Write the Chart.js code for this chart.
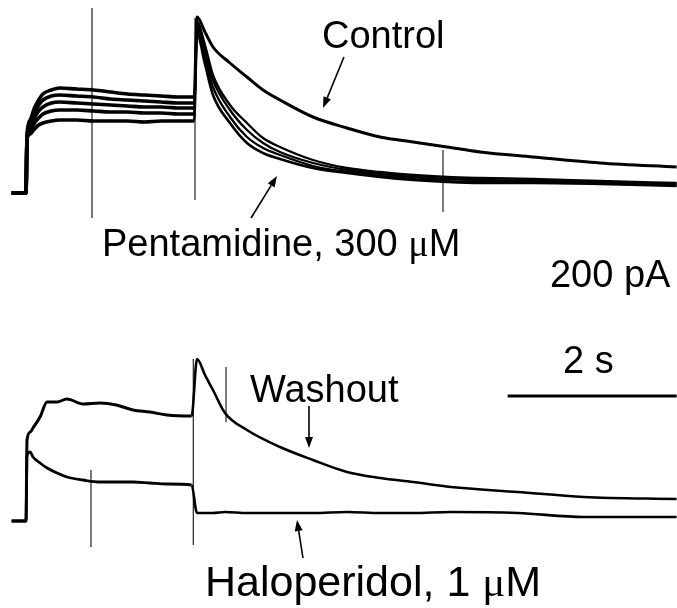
<!DOCTYPE html>
<html>
<head>
<meta charset="utf-8">
<script src="https://cdn.jsdelivr.net/npm/chart.js@4"></script>
<style>
  html, body { margin: 0; padding: 0; background: #fff; }
  #wrap { width: 677px; height: 608px; }
</style>
</head>
<body>
<div id="wrap"><canvas id="c" width="677" height="608"></canvas></div>
<script>
// ---------- DATA (time in s, current in pA; step onset at t = 0) ----------
// Upper panel: control + pentamidine (300 µM) traces
const topPulseT = [-0.17, -0.08, 0, 0.012, 0.05, 0.1, 0.15, 0.2, 0.3, 0.4, 0.6, 0.8, 1.0, 1.2, 1.4, 1.6, 1.8, 1.99];
const controlPulse = [0, 0, 0, 116, 146, 170, 186, 198, 206, 210, 208, 206, 202, 198, 196, 194, 192, 192];
const pentA_Pulse = [0, 0, 0, 114, 138, 160, 176, 186, 194, 196, 194, 192, 188, 186, 184, 182, 180, 180];
const pentB_Pulse = [0, 0, 0, 112, 130, 150, 164, 172, 180, 182, 180, 178, 176, 174, 172, 172, 170, 170];
const pentC_Pulse = [0, 0, 0, 110, 124, 140, 150, 158, 164, 166, 166, 164, 162, 162, 160, 160, 158, 158];
const pentD_Pulse = [0, 0, 0, 108, 118, 128, 136, 140, 144, 146, 146, 144, 144, 144, 142, 144, 144, 144];

const topTailT = [2.024, 2.118, 2.213, 2.414, 2.615, 2.805, 3.006, 3.396, 3.799, 4.189, 4.580, 4.982, 5.373, 6.0, 6.79, 7.70];
const controlTail = [352, 322, 292, 260, 232, 206, 186, 152, 130, 112, 102, 92, 82, 72, 60, 52];
const pentA_Tail = [342, 296, 236, 176, 140, 110, 92, 66, 50, 42, 36, 32, 30, 28, 24, 20];
const pentB_Tail = [334, 282, 226, 166, 126, 100, 82, 60, 46, 38, 32, 28, 26, 24, 22, 18];
const pentC_Tail = [326, 270, 212, 152, 112, 90, 76, 54, 42, 34, 28, 24, 22, 22, 20, 16];
const pentD_Tail = [318, 258, 196, 140, 100, 80, 68, 50, 40, 32, 26, 22, 20, 20, 18, 14];

// Lower panel: washout + haloperidol (1 µM)
const botPulseT = [-0.17, 0, 0.012, 0.05, 0.083, 0.166, 0.25, 0.367, 0.485, 0.675, 0.876, 1.07, 1.266, 1.467, 1.669, 1.96];
const washoutPulse = [0, 0, 162, 178, 186, 208, 238, 238, 244, 234, 236, 232, 222, 218, 212, 210];
const haloPulse = [0, 0, 132, 138, 128, 116, 106, 96, 88, 82, 78, 78, 78, 76, 74, 72];

const botTailT = [2.024, 2.118, 2.213, 2.355, 2.615, 3.006, 3.396, 3.799, 4.189, 4.580, 5.03, 5.82, 6.60, 7.70];
const washoutTail = [324, 292, 262, 216, 182, 148, 122, 98, 86, 78, 68, 58, 48, 44];
const haloTail = [16, 16, 16, 18, 16, 16, 16, 18, 16, 16, 18, 16, 8, 8];

// Capacitive artifacts (time, upper current, lower current)
const topArtifactT = [0.781, 2.0, 4.935];
const topArtifactHi = [370, 350, 86];
const topArtifactLo = [-50, -14, -38];
const botArtifactT = [0.769, 1.98, 2.367];
const botArtifactHi = [102, 324, 308];
const botArtifactLo = [-52, -48, 198];

// Time scale bar: 2 s
const scaleBarT = [5.70, 7.70];
const scaleBarI = 250;

// ---------- helpers ----------
function pts(tA, vA) { return tA.map((t, i) => ({ x: t, y: vA[i] })); }
function trace(tp, vp, tt, vt) { return pts(tp, vp).concat(pts(tt, vt)); }

const datasets = [];
function addLine(data, axis, pulseWidth, tailWidth) {
  datasets.push({ data, yAxisID: axis, borderColor: '#000', borderWidth: tailWidth,
    pointRadius: 0, cubicInterpolationMode: 'monotone', fill: false,
    borderJoinStyle: 'round', borderCapStyle: 'butt',
    segment: { borderWidth: c => (c.p1.parsed.x < 2.0 ? pulseWidth : tailWidth) } });
}

addLine(trace(topPulseT, controlPulse, topTailT, controlTail), 'yTop', 3.6, 3.0);
addLine(trace(topPulseT, pentA_Pulse, topTailT, pentA_Tail), 'yTop', 3.6, 2.3);
addLine(trace(topPulseT, pentB_Pulse, topTailT, pentB_Tail), 'yTop', 3.6, 2.3);
addLine(trace(topPulseT, pentC_Pulse, topTailT, pentC_Tail), 'yTop', 3.6, 2.3);
addLine(trace(topPulseT, pentD_Pulse, topTailT, pentD_Tail), 'yTop', 3.6, 2.6);
addLine(trace(botPulseT, washoutPulse, botTailT, washoutTail), 'yBot', 3.0, 2.6);
addLine(trace(botPulseT, haloPulse, botTailT, haloTail), 'yBot', 2.8, 2.6);

topArtifactT.forEach((t, i) => {
  datasets.push({ data: [{ x: t, y: topArtifactHi[i] }, { x: t, y: topArtifactLo[i] }], yAxisID: 'yTop',
    borderColor: '#222', borderWidth: 1.2, pointRadius: 0, tension: 0 });
});
botArtifactT.forEach((t, i) => {
  datasets.push({ data: [{ x: t, y: botArtifactHi[i] }, { x: t, y: botArtifactLo[i] }], yAxisID: 'yBot',
    borderColor: '#222', borderWidth: 1.2, pointRadius: 0, tension: 0 });
});
datasets.push({ data: scaleBarT.map(t => ({ x: t, y: scaleBarI })), yAxisID: 'yBot',
  borderColor: '#000', borderWidth: 3, pointRadius: 0, tension: 0 });

// ---------- annotations (positions in data units) ----------
const labelSpecs = [
  { axis: 'yTop', t: 3.503, i: 290, size: 38, parts: [{ s: 'Control' }] },
  { axis: 'yTop', t: 0.899, i: -126, size: 38, parts: [{ s: 'Pentamidine, 300 ' }, { s: 'μ', serif: true }, { s: 'M' }] },
  { axis: 'yTop', t: 6.201, i: -188, size: 38, parts: [{ s: '200 pA' }] },
  { axis: 'yBot', t: 6.355, i: 296, size: 38, parts: [{ s: '2 s' }] },
  { axis: 'yBot', t: 2.651, i: 238, size: 38, parts: [{ s: 'Washout' }] },
  { axis: 'yBot', t: 2.118, i: -150, size: 43, parts: [{ s: 'Haloperidol, 1 ' }, { s: 'μ', serif: true }, { s: 'M' }] }
];
const arrowSpecs = [
  { axis: 'yTop', t0: 3.763, i0: 272, t1: 3.515, i1: 170 },
  { axis: 'yTop', t0: 2.663, i0: -50, t1: 2.970, i1: 34 },
  { axis: 'yBot', t0: 3.349, i0: 230, t1: 3.349, i1: 146 },
  { axis: 'yBot', t0: 3.278, i0: -74, t1: 3.207, i1: 2 }
];

const annotPlugin = {
  id: 'annot',
  afterDatasetsDraw(chart) {
    const ctx = chart.ctx, xs = chart.scales.x;
    ctx.save();
    ctx.fillStyle = '#000';
    ctx.strokeStyle = '#000';
    ctx.textBaseline = 'alphabetic';
    ctx.textAlign = 'left';
    for (const L of labelSpecs) {
      const ys = chart.scales[L.axis];
      let x = xs.getPixelForValue(L.t);
      const y = ys.getPixelForValue(L.i);
      for (const p of L.parts) {
        ctx.font = p.serif ? (L.size + 'px "Liberation Serif", "Times New Roman", serif')
                           : (L.size + 'px "Liberation Sans", Arial, sans-serif');
        ctx.fillText(p.s, x, y);
        x += ctx.measureText(p.s).width;
      }
    }
    for (const A of arrowSpecs) {
      const ys = chart.scales[A.axis];
      const x0 = xs.getPixelForValue(A.t0), y0 = ys.getPixelForValue(A.i0);
      const x1 = xs.getPixelForValue(A.t1), y1 = ys.getPixelForValue(A.i1);
      const ang = Math.atan2(y1 - y0, x1 - x0);
      const hl = 11, hw = 4;
      const bx = x1 - hl * Math.cos(ang), by = y1 - hl * Math.sin(ang);
      ctx.lineWidth = 1.6;
      ctx.beginPath(); ctx.moveTo(x0, y0); ctx.lineTo(bx, by); ctx.stroke();
      ctx.beginPath();
      ctx.moveTo(x1, y1);
      ctx.lineTo(bx + hw * Math.sin(ang), by - hw * Math.cos(ang));
      ctx.lineTo(bx - hw * Math.sin(ang), by + hw * Math.cos(ang));
      ctx.closePath(); ctx.fill();
    }
    ctx.restore();
  }
};

new Chart(document.getElementById('c'), {
  type: 'line',
  data: { datasets },
  options: {
    responsive: false,
    animation: false,
    devicePixelRatio: 1,
    layout: { padding: 0 },
    plugins: { legend: { display: false }, tooltip: { enabled: false } },
    scales: {
      x: { type: 'linear', min: -0.30769, max: 7.70414, display: false },
      yTop: { type: 'linear', min: -830, max: 386, display: false },
      yBot: { type: 'linear', min: -174, max: 1042, display: false }
    }
  },
  plugins: [annotPlugin]
});
</script>
</body>
</html>
